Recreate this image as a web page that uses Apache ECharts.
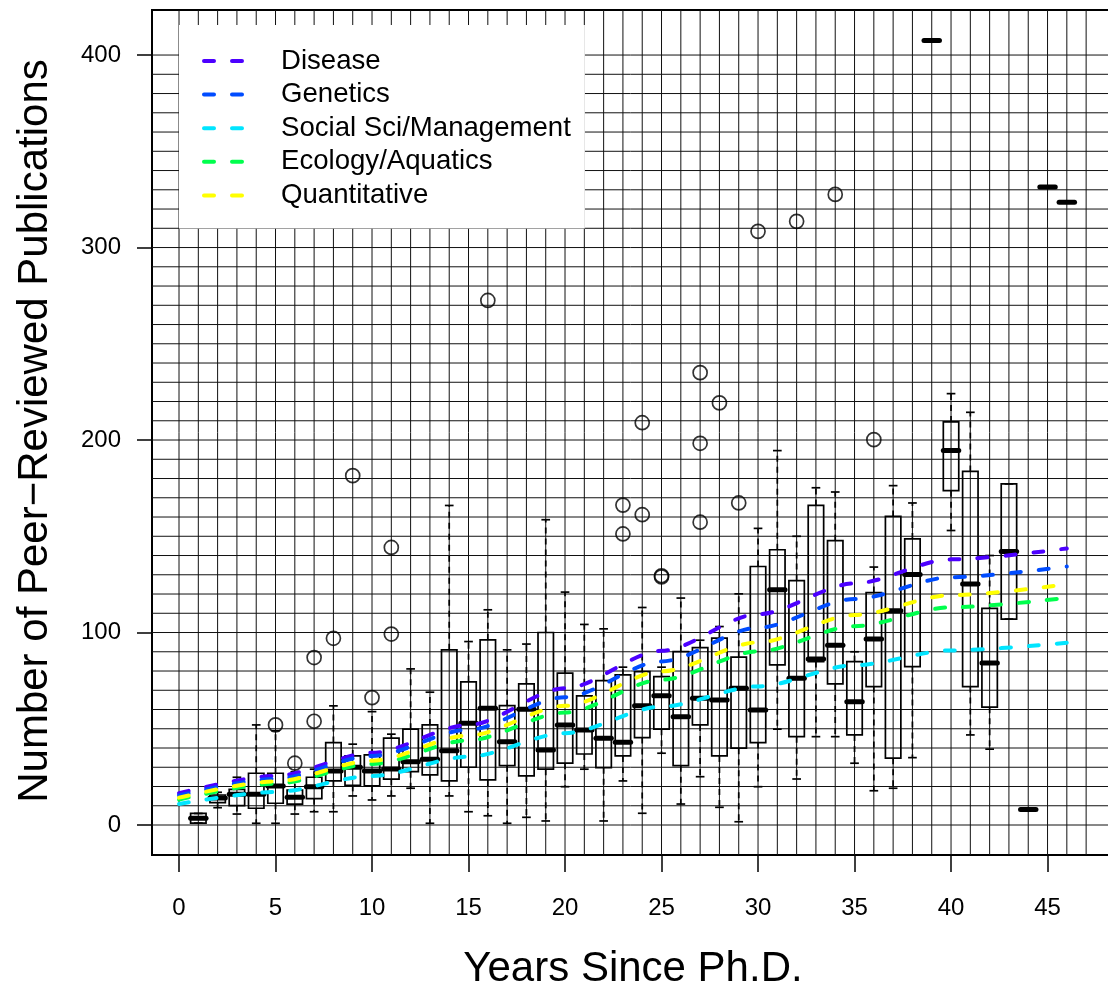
<!DOCTYPE html>
<html>
<head>
<meta charset="utf-8">
<script src="https://cdn.jsdelivr.net/npm/echarts@6/dist/echarts.min.js"></script>
<style>
html,body{margin:0;padding:0;background:#fff;}
#chart{width:1108px;height:991px;}
</style>
</head>
<body>
<div id="chart"></div>
<script>
// ---------- data ----------
const years = [1,2,3,4,5,6,7,8,9,10,11,12,13,14,15,16,17,18,19,20,21,22,23,24,25,26,27,28,29,30,31,32,33,34,35,36,37,38,39,40,41,42,43,44,45,46];
const boxMin = [1,9,5.7,0.9,0.9,5.7,6.9,6.9,15.1,13,15.1,19.1,0.9,15.1,6.9,4.8,0.9,4,2.1,19.9,29,2.1,22.9,6.1,37.3,10.9,25.1,9.2,1.7,19.9,49.8,23.9,45.9,45.9,32.1,17.8,19.1,35,407.5,153,46.8,39.4,107,8,331.5,323.5];
const boxQ1  = [1,11.6,10.1,8.7,11.3,10.8,13.7,22.9,20.6,20.3,23.8,27.7,26,22.9,30,23.4,30.8,25.5,29,32.1,36.9,29.8,35.9,45.4,49.8,30.8,52,35.9,39.9,42.8,83.2,45.9,84.9,73.3,46.8,71.9,34.7,82.3,407.5,173.7,71.9,61.2,107,8,331.5,323.5];
const boxMed = [3.5,14,16,16,20.3,14.4,19.9,28.1,30,28.1,29.1,32.9,34.2,38.6,52.9,60.7,43.3,60.2,39,52,49.4,45.1,43,62,67.1,56.3,65.9,65,71.1,59.8,122.2,76.3,86.2,93.4,64,96.6,111.3,130.2,407.5,194.5,125.2,84.1,142.1,8,331.5,323.5];
const boxQ3  = [6,15.6,18.5,26.9,26.9,18.2,24.8,42.8,35.9,36.4,45.1,49.8,52,91,74.4,96.2,62,73.3,100,78.9,67.1,75,78,79.7,77.1,90.1,92.2,97.1,87.2,134.3,143,127,166,147.7,84.9,120.8,160.3,148.6,407.5,209.4,183.7,112.5,177.2,8,331.5,323.5];
const boxMax = [6,17,24.8,52,49,27.6,29,61.9,42,58.9,47.2,81.1,69,166,95.3,111.8,91,94,158.6,121,104.2,101.9,82,113,82,117.9,96,103.1,120.1,154.1,194.5,150,175.2,173,90,134,176.3,167.3,407.5,224.1,214.4,140,177.2,8,331.5,323.5];

const outlierYears  = [5,6,7,7,8,9,10,11,11,16,23,23,24,24,25,25,27,27,27,28,29,30,32,34,36];
const outlierValues = [52,32.1,87,53.9,97,181.5,66.2,144.2,99.2,272.5,166.2,151.2,209,161.2,128.9,129.5,235,198.3,157.3,219.3,167.3,308.4,313.6,327.6,200.2];

const trendYears   = [0,5,10,15,20,25,30,35,40,46];
const disease      = [16.5,25.5,37.5,52,71,90.5,109.5,125.5,138,143.7];
const genetics     = [15.3,24,35.9,49.5,66.4,85,102.5,117.4,128.7,134.3];
const socialSci    = [10.9,17.2,25.5,35.5,47.7,61.5,72,83,90.7,94.7];
const ecology      = [13.2,21.5,31.7,44,58.4,75.5,90.2,103.3,113.1,118];
const quantitative = [14.2,22.7,33.4,46.5,61.9,79.8,94.9,109.1,119.4,125];

const seriesNames = ['Disease','Genetics','Social Sci/Management','Ecology/Aquatics','Quantitative'];
const xTicks = [0,5,10,15,20,25,30,35,40,45];
const yTicks = [0,100,200,300,400];

// ---------- styling / layout ----------
const FONT = '"Liberation Sans", Arial, Helvetica, sans-serif';
const colors = ['#4C00FF','#004CFF','#00E5FF','#00FF4D','#FFFF00'];
const X_MIN = -1.4, X_MAX = 48.34, Y_MIN = -15.58, Y_MAX = 423.4;
const gridXs = []; for (let v = 0; v <= 47; v++) gridXs.push(v);
const gridYs = []; for (let v = 0; v <= 400; v += 10) gridYs.push(v);
const DASH_ICON = 'path://M2,0H12A2,2,0,0,1,12,4H2A2,2,0,0,1,2,0Z M30,0H40A2,2,0,0,1,40,4H30A2,2,0,0,1,30,0Z';

const trendData = [disease, genetics, socialSci, ecology, quantitative];

const chart = echarts.init(document.getElementById('chart'), null, {renderer: 'canvas'});

const lineSeries = seriesNames.map((name, k) => ({
  name: name,
  type: 'line',
  data: trendYears.map((x, i) => [x, trendData[k][i]]),
  symbol: 'none',
  smooth: 0.3,
  smoothMonotone: 'x',
  z: 4,
  silent: true,
  color: colors[k],
  lineStyle: {color: colors[k], width: 4, type: [10, 18], cap: 'round'}
}));

const option = {
  animation: false,
  backgroundColor: '#fff',
  grid: {left: 152, top: 10, right: -4, bottom: 136, show: true, borderColor: '#000', borderWidth: 2, backgroundColor: 'transparent', containLabel: false, outerBoundsMode: 'none'},
  xAxis: {
    type: 'value', min: X_MIN, max: X_MAX,
    axisLine: {show: false, onZero: false},
    axisTick: {show: true, length: 17, customValues: xTicks, lineStyle: {color: '#000', width: 1.5}},
    axisLabel: {customValues: xTicks, margin: 41, fontSize: 24, color: '#000', fontFamily: FONT},
    splitLine: {show: false}
  },
  yAxis: {
    type: 'value', min: Y_MIN, max: Y_MAX,
    axisLine: {show: false, onZero: false},
    axisTick: {show: true, length: 15, customValues: yTicks, lineStyle: {color: '#000', width: 1.5}},
    axisLabel: {customValues: yTicks, margin: 31, fontSize: 24, color: '#000', fontFamily: FONT},
    splitLine: {show: false}
  },
  legend: {
    data: seriesNames.map(n => ({name: n, icon: DASH_ICON})),
    orient: 'vertical',
    left: 179, top: 25,
    backgroundColor: '#fff',
    borderWidth: 0,
    padding: [21, 14, 18, 23],
    itemWidth: 42, itemHeight: 4, itemGap: 3.6,
    selectedMode: false,
    textStyle: {fontSize: 27.6, fontFamily: FONT, color: '#000', lineHeight: 30, padding: [0, 0, 0, 32]},
    z: 10
  },
  graphic: [
    {type: 'text', x: 633, y: 969, z: 10,
     style: {text: 'Years Since Ph.D.', font: '42px ' + FONT, fill: '#000', align: 'center', verticalAlign: 'middle'}},
    {type: 'text', x: 35, y: 431, rotation: Math.PI / 2, z: 10,
     style: {text: 'Number of Peer\u2212Reviewed Publications', font: '42px ' + FONT, fill: '#000', align: 'center', verticalAlign: 'middle'}}
  ],
  series: [
    {
      name: 'grid', type: 'custom', silent: true, z: 0,
      data: [[0, 0]],
      renderItem: function (params, api) {
        const children = [];
        gridXs.forEach(v => {
          const a = api.coord([v, Y_MIN]), b = api.coord([v, Y_MAX]);
          children.push({type: 'line', shape: {x1: a[0], y1: a[1], x2: b[0], y2: b[1]}, style: {stroke: '#111', lineWidth: 1}});
        });
        gridYs.forEach(v => {
          const a = api.coord([X_MIN, v]), b = api.coord([X_MAX, v]);
          children.push({type: 'line', shape: {x1: a[0], y1: a[1], x2: b[0], y2: b[1]}, style: {stroke: '#111', lineWidth: 1}});
        });
        return {type: 'group', children: children};
      }
    },
    {
      name: 'boxes', type: 'custom', silent: true, z: 2,
      data: years.map((y, i) => [y, boxMin[i], boxQ1[i], boxMed[i], boxQ3[i], boxMax[i]]),
      encode: {x: 0, y: [1, 2, 3, 4, 5]},
      renderItem: function (params, api) {
        const x = api.value(0);
        const half = api.size([0.8, 0])[0] / 2;
        const sHalf = api.size([0.45, 0])[0] / 2;
        const pMin = api.coord([x, api.value(1)]);
        const pQ1 = api.coord([x, api.value(2)]);
        const pMed = api.coord([x, api.value(3)]);
        const pQ3 = api.coord([x, api.value(4)]);
        const pMax = api.coord([x, api.value(5)]);
        const cx = pMed[0];
        const stroke = {stroke: '#000', lineWidth: 1.7, fill: null};
        const dashed = {stroke: '#000', lineWidth: 1.7, lineDash: [6, 5]};
        return {
          type: 'group',
          children: [
            {type: 'line', shape: {x1: cx, y1: pQ3[1], x2: cx, y2: pMax[1]}, style: dashed},
            {type: 'line', shape: {x1: cx, y1: pQ1[1], x2: cx, y2: pMin[1]}, style: dashed},
            {type: 'line', shape: {x1: cx - sHalf, y1: pMax[1], x2: cx + sHalf, y2: pMax[1]}, style: stroke},
            {type: 'line', shape: {x1: cx - sHalf, y1: pMin[1], x2: cx + sHalf, y2: pMin[1]}, style: stroke},
            {type: 'rect', shape: {x: cx - half, y: pQ3[1], width: half * 2, height: pQ1[1] - pQ3[1]}, style: {stroke: '#000', lineWidth: 1.7, fill: null}},
            {type: 'line', shape: {x1: cx - half, y1: pMed[1], x2: cx + half, y2: pMed[1]}, style: {stroke: '#000', lineWidth: 5, lineCap: 'round'}}
          ]
        };
      }
    },
    {
      name: 'outliers', type: 'scatter', silent: true, z: 5,
      data: outlierYears.map((x, i) => [x, outlierValues[i]]),
      symbol: 'circle', symbolSize: 14,
      itemStyle: {color: 'rgba(0,0,0,0)', borderColor: '#000', borderWidth: 1.7}
    }
  ].concat(lineSeries)
};

chart.setOption(option);
</script>
</body>
</html>
